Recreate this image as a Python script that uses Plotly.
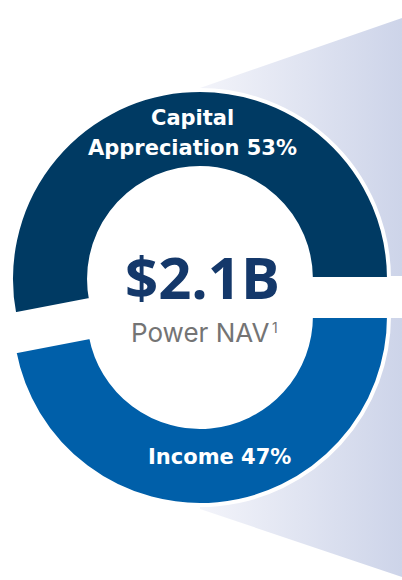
import base64
import plotly.graph_objects as go

# ---------------- data ----------------
categories = ["Capital Appreciation", "Income"]
label_lines = [["Capital", "Appreciation"], ["Income"]]   # how each name is wrapped
shares = [53, 47]
total_value = "$2.1B"
total_label = "Power NAV"
footnote = "1"

# ---------------- style ----------------
W, H = 402, 580
DARK = "#003A63"
BLUE = "#005FA9"
NAVY_TEXT = "#14386A"
GRAY_TEXT = "#747474"
CLEAR = "rgba(0,0,0,0)"
FONT = "Open Sans"
LABEL_FONT = "DejaVu Sans"
SUB_FONT = "Inter"

R = 189          # outer radius, px
HOLE = 0.587
CX = 200
CY_TOP = 279     # centre of the upper (pulled-up) slice
CY_BOT = 316     # centre of the lower (pulled-down) slice

# first slice starts just below 9 o'clock and runs clockwise to 3 o'clock
ROTATION = 90 - 360 * shares[0] / sum(shares)


def dom_x(cx, r):
    return [(cx - r) / W, (cx + r) / W]


def dom_y(cy, r):
    c = 1 - cy / H
    return [c - r / H, c + r / H]


def px(x, y):
    return x / W, 1 - y / H


fig = go.Figure()

slice_colors = [DARK, BLUE]
for i, cy in enumerate([CY_TOP, CY_BOT]):
    fills = [slice_colors[k] if k == i else CLEAR for k in range(len(shares))]
    lines = ["white" if k == i else CLEAR for k in range(len(shares))]
    fig.add_trace(go.Pie(
        labels=categories,
        values=shares,
        sort=False,
        direction="clockwise",
        rotation=ROTATION,
        hole=HOLE,
        marker=dict(colors=fills, line=dict(color=lines, width=4)),
        textinfo="none",
        hoverinfo="skip",
        showlegend=False,
        domain=dict(x=dom_x(CX, R), y=dom_y(cy, R)),
    ))

# ---------------- decorative gradient fan behind the ring ----------------
svg = f"""<svg xmlns='http://www.w3.org/2000/svg' width='{W}' height='{H}' viewBox='0 0 {W} {H}' preserveAspectRatio='none'>
<defs><linearGradient id='g' x1='200' y1='0' x2='402' y2='0' gradientUnits='userSpaceOnUse'>
<stop offset='0' stop-color='#F3F4FA'/><stop offset='1' stop-color='#CDD4E9'/></linearGradient></defs>
<path d='M 200 88 L 402 18 L 402 276 L 350 276 A 150 150 0 0 0 200 129 Z' fill='url(#g)'/>
<path d='M 200 509 L 402 577 L 402 318 L 350 318 A 150 150 0 0 1 200 466 Z' fill='url(#g)'/>
</svg>"""
src = "data:image/svg+xml;base64," + base64.b64encode(svg.encode()).decode()
fig.add_layout_image(dict(source=src, xref="paper", yref="paper", x=0, y=1,
                          sizex=1, sizey=1, sizing="stretch", xanchor="left",
                          yanchor="top", layer="below"))

# ---------------- text ----------------
# (centre x, bottom y of first line) for each slice label, px; line pitch 30 px
label_anchor = [(192, 132), (220, 471)]
for lines, share, (lx, ly) in zip(label_lines, shares, label_anchor):
    for j, line in enumerate(lines):
        txt = f"{line} {share}%" if j == len(lines) - 1 else line
        ax, ay = px(lx, ly + 30 * j)
        fig.add_annotation(text=txt, x=ax, y=ay, xref="paper", yref="paper",
                           showarrow=False, xanchor="center", yanchor="bottom",
                           font=dict(family=LABEL_FONT, size=21, color="white",
                                     weight=700))

ax, ay = px(202, 316.5)
fig.add_annotation(text=total_value, x=ax, y=ay, xref="paper", yref="paper",
                   showarrow=False, xanchor="center", yanchor="bottom", borderpad=0,
                   font=dict(family=FONT, size=58, color=NAVY_TEXT, weight=700))
ax, ay = px(270, 348.6)
fig.add_annotation(text=total_label, x=ax, y=ay, xref="paper", yref="paper",
                   showarrow=False, xanchor="right", yanchor="bottom", borderpad=0,
                   font=dict(family=SUB_FONT, size=26, color=GRAY_TEXT))
ax, ay = px(270.5, 336.7)
fig.add_annotation(text=footnote, x=ax, y=ay, xref="paper", yref="paper",
                   showarrow=False, xanchor="left", yanchor="bottom", borderpad=0,
                   font=dict(family=SUB_FONT, size=14, color=GRAY_TEXT))

fig.update_layout(width=W, height=H, margin=dict(l=0, r=0, t=0, b=0),
                  paper_bgcolor="white", plot_bgcolor="white")
fig.write_html("out.html", config={"displayModeBar": False},
               post_script="document.body.style.margin='0';"
                           "document.body.style.overflow='hidden';")
